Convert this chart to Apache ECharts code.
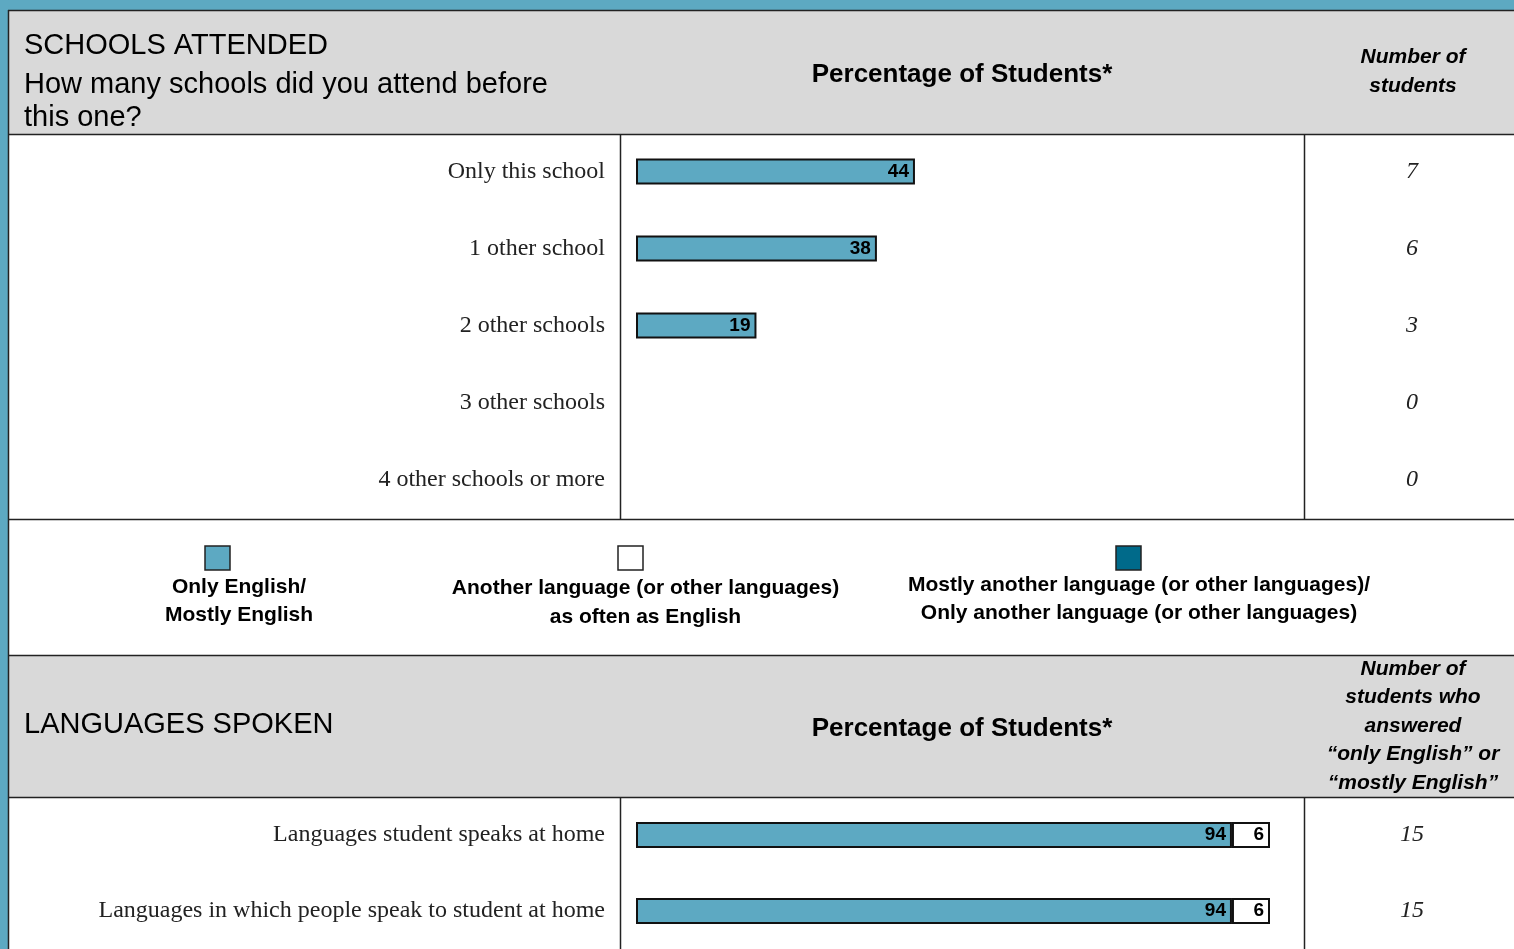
<!DOCTYPE html>
<html>
<head>
<meta charset="utf-8">
<style>
  html, body { margin: 0; padding: 0; background: #fff; }
  #chart { width: 1514px; height: 949px; }
</style>
<script src="https://cdn.jsdelivr.net/npm/echarts@6/dist/echarts.min.js"></script>
</head>
<body>
<div id="chart"></div>
<script>
// schools attended
const schoolCats = ["Only this school", "1 other school", "2 other schools", "3 other schools", "4 other schools or more"];
const schoolPct = [44, 38, 19, 0, 0];
const schoolCounts = ["7", "6", "3", "0", "0"];

// languages spoken
const langCats = ["Languages student speaks at home", "Languages in which people speak to student at home"];
const langEnglish = [94, 94];
const langSame = [6, 6];
const langOther = [0, 0];
const langCounts = ["15", "15"];

const legendNames = [
  "Only English/\nMostly English",
  "Another language (or other languages)\nas often as English",
  "Mostly another language (or other languages)/\nOnly another language (or other languages)"
];

const TEAL = "#5da9c2";
const DARK = "#006a8a";
const GRAY = "#d9d9d9";
const SANS = "'Liberation Sans', Arial, sans-serif";
const SERIF = "'Liberation Serif', 'Times New Roman', serif";

const chart = echarts.init(document.getElementById("chart"));

const noZero = (arr) => arr.map((v) => (v ? v : "-"));

const catAxis = (grid, data) => ({
  type: "category", gridIndex: grid, data, inverse: true,
  axisLine: { show: false }, axisTick: { show: false },
  axisLabel: { margin: 31, color: "#222", fontFamily: SERIF, fontSize: 24 }
});
const countAxis = (grid, data) => ({
  type: "category", gridIndex: grid, data, inverse: true, position: "right",
  axisLine: { show: false }, axisTick: { show: false },
  axisLabel: { margin: 142, align: "center", color: "#222", fontFamily: SERIF, fontStyle: "italic", fontSize: 24 }
});
const valAxis = (grid) => ({ type: "value", gridIndex: grid, min: 0, max: 100, show: false });

const barLabel = {
  show: true, position: "insideRight", distance: 6, color: "#000",
  fontFamily: SANS, fontWeight: "bold", fontSize: 19,
  formatter: (p) => (p.value ? p.value : "")
};

const hline = (y, x1, x2, color) => ({ type: "line", shape: { x1, y1: y, x2, y2: y }, style: { stroke: color || "#222", lineWidth: 1.5 } });
const vline = (x, y1, y2) => ({ type: "line", shape: { x1: x, y1, x2: x, y2 }, style: { stroke: "#222", lineWidth: 1.5 } });
const txt = (x, y, text, font, align, extra) => ({
  type: "text", x, y,
  style: Object.assign({ text, font, fill: "#000", align: align || "left", verticalAlign: "middle" }, extra || {})
});
const legendItem = (sx, tx, ty, color, name) => ([
  { type: "rect", shape: { x: sx - 12.5, y: 546, width: 25, height: 24 }, style: { fill: color, stroke: "#222", lineWidth: 1.5 } },
  txt(tx, ty, name, "bold 21px " + SANS, "center", { lineHeight: 28.5 })
]);

chart.setOption({
  animation: false,
  grid: [
    { left: 636, top: 133, width: 634, height: 385 },
    { left: 636, top: 797, width: 634, height: 154 }
  ],
  xAxis: [valAxis(0), valAxis(1)],
  yAxis: [catAxis(0, schoolCats), countAxis(0, schoolCounts), catAxis(1, langCats), countAxis(1, langCounts)],
  graphic: [
    // backgrounds
    { type: "rect", z: -10, shape: { x: 0, y: 0, width: 1514, height: 10 }, style: { fill: TEAL } },
    { type: "rect", z: -10, shape: { x: 0, y: 0, width: 8, height: 949 }, style: { fill: TEAL } },
    { type: "rect", z: -10, shape: { x: 9, y: 11, width: 1505, height: 123 }, style: { fill: GRAY } },
    { type: "rect", z: -10, shape: { x: 9, y: 656, width: 1505, height: 141 }, style: { fill: GRAY } },
    hline(10.5, 8, 1514), vline(8.5, 10, 949),
    hline(134.5, 9, 1514), hline(519.5, 9, 1514), hline(655.5, 9, 1514), hline(797.5, 9, 1514),
    vline(620.5, 134, 519), vline(1304.5, 134, 519), vline(620.5, 797, 949), vline(1304.5, 797, 949),
    // header 1
    txt(24, 46, "SCHOOLS ATTENDED", "29px " + SANS),
    txt(24, 85, "How many schools did you attend before", "29px " + SANS),
    txt(24, 118, "this one?", "29px " + SANS),
    txt(962, 75, "Percentage of Students*", "bold 26px " + SANS, "center"),
    txt(1413, 71.5, "Number of\nstudents", "italic bold 21px " + SANS, "center", { lineHeight: 29 }),
    // header 2
    txt(24, 725, "LANGUAGES SPOKEN", "29px " + SANS),
    txt(962, 729, "Percentage of Students*", "bold 26px " + SANS, "center"),
    txt(1413, 726, "Number of\nstudents who\nanswered\n\u201conly English\u201d or\n\u201cmostly English\u201d", "italic bold 21px " + SANS, "center", { lineHeight: 28.4 }),
    // legend
    ...legendItem(217.5, 239, 601, TEAL, legendNames[0]),
    ...legendItem(630.5, 645.5, 602.5, "#fff", legendNames[1]),
    ...legendItem(1128.5, 1139, 599, DARK, legendNames[2])
  ],
  series: [
    {
      type: "bar", xAxisIndex: 0, yAxisIndex: 0, data: noZero(schoolPct), barWidth: 26,
      itemStyle: { color: TEAL, borderColor: "#111", borderWidth: 2 }, label: barLabel
    },
    {
      name: legendNames[0], type: "bar", stack: "lang", xAxisIndex: 1, yAxisIndex: 2, data: noZero(langEnglish), barWidth: 26,
      itemStyle: { color: TEAL, borderColor: "#111", borderWidth: 2 }, label: barLabel
    },
    {
      name: legendNames[1], type: "bar", stack: "lang", xAxisIndex: 1, yAxisIndex: 2, data: noZero(langSame), barWidth: 26,
      itemStyle: { color: "#fff", borderColor: "#111", borderWidth: 2 }, label: barLabel
    },
    {
      name: legendNames[2], type: "bar", stack: "lang", xAxisIndex: 1, yAxisIndex: 2, data: noZero(langOther), barWidth: 26,
      itemStyle: { color: DARK, borderColor: "#111", borderWidth: 2 }, label: barLabel
    }
  ]
});
</script>
</body>
</html>
